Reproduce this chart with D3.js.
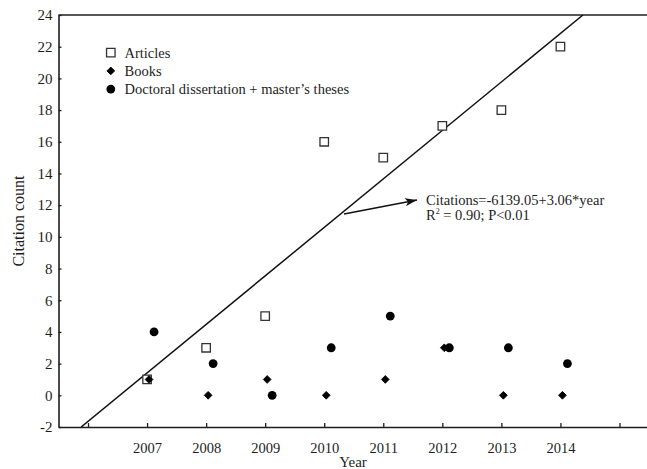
<!DOCTYPE html>
<html>
<head>
<meta charset="utf-8">
<script src="https://cdn.jsdelivr.net/npm/d3@7"></script>
<style>
  html, body { margin: 0; padding: 0; background: #fff; }
  svg { display: block; font-family: "Liberation Serif", "Times New Roman", serif; }
</style>
</head>
<body>
<svg id="chart" width="647" height="469"></svg>
<script>
// Citation counts per year, by document type
const years = [2007, 2008, 2009, 2010, 2011, 2012, 2013, 2014];
const articles = [1, 3, 5, 16, 15, 17, 18, 22];
const books = [1, 0, 1, 0, 1, 3, 0, 0];
const theses = [4, 2, 0, 3, 5, 3, 3, 2];

const seriesNames = ["Articles", "Books", "Doctoral dissertation + master\u2019s theses"];
const yTicks = [-2, 0, 2, 4, 6, 8, 10, 12, 14, 16, 18, 20, 22, 24];
const xTicks = [2006, 2007, 2008, 2009, 2010, 2011, 2012, 2013, 2014, 2015];
const xTickLabels = ["", "2007", "2008", "2009", "2010", "2011", "2012", "2013", "2014", ""];

const ink = "#1e1e1e";
const svg = d3.select("#chart");

const x = d3.scaleLinear().domain([2005.5, 2015.5]).range([58.5, 649]);
const y = d3.scaleLinear().domain([-2, 24]).range([427, 15]);

// Least-squares fit of article citations against year
const mx = d3.mean(years), my = d3.mean(articles);
const sxy = d3.sum(years, (v, i) => (v - mx) * (articles[i] - my));
const sxx = d3.sum(years, v => (v - mx) ** 2);
const slope = sxy / sxx;
const intercept = my - slope * mx;
const sst = d3.sum(articles, v => (v - my) ** 2);
const r2 = (slope * sxy) / sst;

// Plain hyphen-minus for negative numbers
const fmt = v => v.toFixed(2);

// Axes
const yAxis = d3.axisLeft(y).tickValues(yTicks).tickSizeInner(-3).tickSizeOuter(0).tickPadding(6)
  .tickFormat(d => String(d));
const xAxis = d3.axisBottom(x).tickValues(xTicks).tickSizeInner(-4).tickSizeOuter(0).tickPadding(16)
  .tickFormat((d, i) => xTickLabels[i]);

const gy = svg.append("g").attr("transform", `translate(${x.range()[0]},0)`).call(yAxis);
const gx = svg.append("g").attr("transform", `translate(0,${y.range()[0]})`).call(xAxis);
[gx, gy].forEach(g => {
  g.select(".domain").attr("stroke", ink).attr("stroke-width", 1.6);
  g.selectAll(".tick line").attr("stroke", ink).attr("stroke-width", 1.3);
  g.selectAll(".tick text").attr("fill", ink)
    .style("font-family", "'Liberation Serif', 'Times New Roman', serif");
});
gy.selectAll(".tick text").style("font-size", "15px");
gx.selectAll(".tick text").style("font-size", "14.5px");

// Top frame line
svg.append("line")
  .attr("x1", x.range()[0]).attr("x2", 647)
  .attr("y1", y.range()[1]).attr("y2", y.range()[1])
  .attr("stroke", ink).attr("stroke-width", 1.6);

// Axis titles
svg.append("text").attr("x", 353).attr("y", 467).attr("text-anchor", "middle")
  .attr("fill", ink).style("font-size", "15px").text("Year");
svg.append("text").attr("transform", "translate(24,221) rotate(-90)").attr("text-anchor", "middle")
  .attr("fill", ink).style("font-size", "16px").text("Citation count");

// Regression line, clipped to the plotting area
svg.append("clipPath").attr("id", "plot-clip").append("rect")
  .attr("x", x.range()[0]).attr("y", y.range()[1])
  .attr("width", x.range()[1] - x.range()[0]).attr("height", y.range()[0] - y.range()[1]);
const [y0, y1] = y.domain();
const xa = (y0 - intercept) / slope, xb = (y1 - intercept) / slope;
svg.append("line")
  .attr("clip-path", "url(#plot-clip)")
  .attr("x1", x(xa)).attr("y1", y(y0))
  .attr("x2", x(xb)).attr("y2", y(y1))
  .attr("stroke", "#111").attr("stroke-width", 1.5);

// Marker shapes
const squareSym = d3.symbol().type(d3.symbolSquare).size(72);
const diamondSym = d3.symbol().type(d3.symbolSquare).size(30);
const drawSquare = (g, cx, cy) => g.append("path").attr("d", squareSym())
  .attr("transform", `translate(${cx},${cy})`)
  .attr("fill", "#fff").attr("stroke", "#333").attr("stroke-width", 1.3);
const drawDiamond = (g, cx, cy) => g.append("path").attr("d", diamondSym())
  .attr("transform", `translate(${cx},${cy}) rotate(45)`)
  .attr("fill", "#000").attr("stroke", "#000").attr("stroke-width", 0.8).attr("stroke-linejoin", "round");
const drawCircle = (g, cx, cy) => g.append("circle").attr("cx", cx).attr("cy", cy).attr("r", 4.4)
  .attr("fill", "#000");

const marks = svg.append("g");
years.forEach((yr, i) => {
  drawSquare(marks, x(yr), y(articles[i]));
  drawDiamond(marks, x(yr) + 2, y(books[i]));
  drawCircle(marks, x(yr) + 7, y(theses[i]));
});

// Legend
const legend = svg.append("g");
const drawers = [drawSquare, drawDiamond, drawCircle];
seriesNames.forEach((name, i) => {
  const ly = 52.7 + i * 18.2;
  drawers[i](legend, 110.8, ly);
  legend.append("text").attr("x", 124.5).attr("y", ly + 5).attr("fill", ink)
    .style("font-size", "14.5px").text(name);
});

// Fit annotation with arrow
svg.append("defs").append("marker")
  .attr("id", "arrowhead").attr("viewBox", "0 0 12 8").attr("refX", 12).attr("refY", 4)
  .attr("markerWidth", 12).attr("markerHeight", 8).attr("markerUnits", "userSpaceOnUse")
  .attr("orient", "auto")
  .append("path").attr("d", "M0,0 L12,4 L0,8 L3,4 Z").attr("fill", "#111");
svg.append("line")
  .attr("x1", 344).attr("y1", 214).attr("x2", 417).attr("y2", 200)
  .attr("stroke", "#111").attr("stroke-width", 1.6).attr("marker-end", "url(#arrowhead)");

const note = svg.append("text").attr("fill", ink).style("font-size", "14.5px");
note.append("tspan").attr("x", 426).attr("y", 205)
  .text(`Citations=${fmt(intercept)}+${fmt(slope)}*year`);
note.append("tspan").attr("x", 426).attr("y", 220).text("R");
note.append("tspan").attr("dy", -6).style("font-size", "8px").text("2");
note.append("tspan").attr("dy", 6).text(` = ${fmt(r2)}; P<0.01`);
</script>
</body>
</html>
